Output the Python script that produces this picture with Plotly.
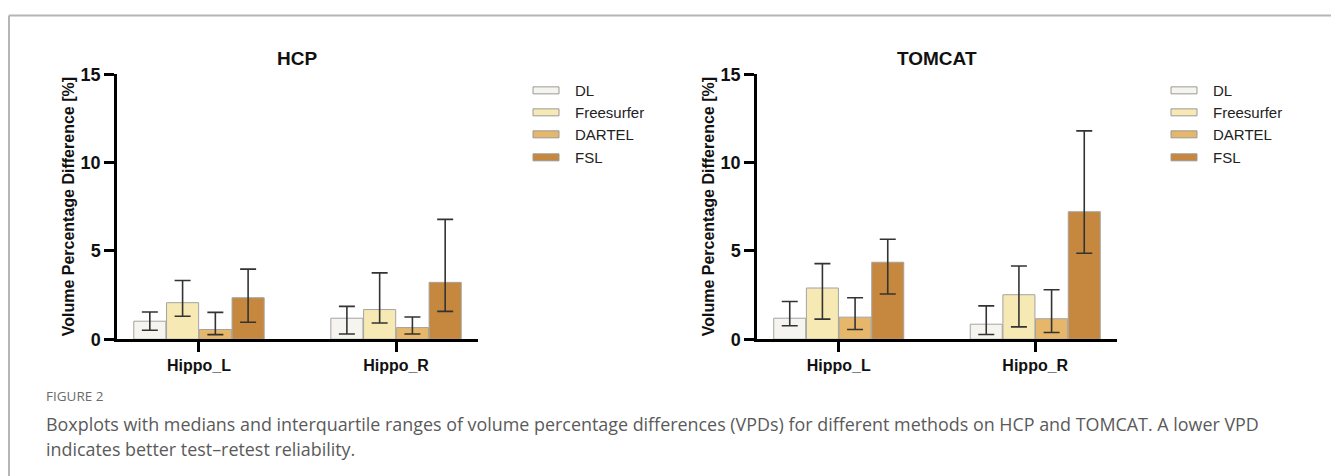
import plotly.graph_objects as go

W, H = 1331, 476

categories = ["Hippo_L", "Hippo_R"]
methods = ["DL", "Freesurfer", "DARTEL", "FSL"]
colors = ["#f6f4ee", "#f7e9b4", "#e6b76a", "#c6883f"]

# HCP medians and interquartile ranges (Q1, Q3)
hcp_median = {"DL": [1.02, 1.19], "Freesurfer": [2.07, 1.68], "DARTEL": [0.55, 0.66], "FSL": [2.35, 3.22]}
hcp_q1 = {"DL": [0.51, 0.30], "Freesurfer": [1.30, 0.92], "DARTEL": [0.26, 0.30], "FSL": [0.96, 1.58]}
hcp_q3 = {"DL": [1.54, 1.86], "Freesurfer": [3.33, 3.76], "DARTEL": [1.52, 1.26], "FSL": [3.97, 6.79]}

# TOMCAT medians and interquartile ranges
tom_median = {"DL": [1.19, 0.85], "Freesurfer": [2.90, 2.52], "DARTEL": [1.25, 1.16], "FSL": [4.36, 7.22]}
tom_q1 = {"DL": [0.76, 0.27], "Freesurfer": [1.14, 0.70], "DARTEL": [0.55, 0.38], "FSL": [2.56, 4.87]}
tom_q3 = {"DL": [2.14, 1.89], "Freesurfer": [4.28, 4.15], "DARTEL": [2.35, 2.80], "FSL": [5.66, 11.80]}

y_ticks = [0, 5, 10, 15]
panel_titles = ["HCP", "TOMCAT"]
y_title = "Volume Percentage Difference [%]"
caption_head = "FIGURE 2"
caption_lines = [
    "Boxplots with medians and interquartile ranges of volume percentage differences (VPDs) for different methods on HCP and TOMCAT. A lower VPD",
    "indicates better test\u2013retest reliability.",
]


def px(x):
    return x / W


def py(t):
    # vertical pixel (from top) -> paper fraction, compensating the observed render mapping
    return 1 - ((t - 8.6) / 0.9585) / H


fig = go.Figure()

datasets = [(hcp_median, hcp_q1, hcp_q3), (tom_median, tom_q1, tom_q3)]
for p, (med, q1, q3) in enumerate(datasets):
    xa = "x" if p == 0 else "x2"
    ya = "y" if p == 0 else "y2"
    for m, c in zip(methods, colors):
        vals = med[m]
        up = [b - a for a, b in zip(vals, q3[m])]
        dn = [a - b for a, b in zip(vals, q1[m])]
        fig.add_trace(go.Bar(
            x=categories, y=vals, name=m, xaxis=xa, yaxis=ya,
            offsetgroup=m, showlegend=False,
            marker=dict(color=c, line=dict(color="#a3a3a3", width=1)),
            error_y=dict(type="data", symmetric=False, array=up, arrayminus=dn,
                         color="#333333", thickness=1.6, width=8),
        ))

axis_font = dict(family="Liberation Sans, Arial, sans-serif", color="#111111")

xdomains = [(px(117), px(478)), (px(757), px(1117))]
ydomain = (py(338), py(73))

for p in range(2):
    xk = "xaxis" if p == 0 else "xaxis2"
    yk = "yaxis" if p == 0 else "yaxis2"
    fig.layout[xk] = dict(
        domain=xdomains[p], range=[-0.416, 1.416], type="category",
        showline=True, linecolor="#000000", linewidth=2.5,
        ticks="outside", ticklen=10, tickwidth=2.5, tickcolor="#000000",
        showgrid=False, zeroline=False,
        tickfont=dict(size=16, weight="bold", **axis_font),
        anchor="y" if p == 0 else "y2",
    )
    fig.layout[yk] = dict(
        domain=ydomain, range=[0, 15], tickvals=y_ticks,
        showline=True, linecolor="#000000", linewidth=2.5,
        ticks="outside", ticklen=10, tickwidth=2.5, tickcolor="#000000",
        showgrid=False, zeroline=False,
        tickfont=dict(size=18, weight="bold", **axis_font),
        anchor="x" if p == 0 else "x2",
    )

fig.update_layout(
    width=W, height=H, autosize=False,
    margin=dict(l=0, r=0, t=0, b=0),
    paper_bgcolor="white", plot_bgcolor="white",
    barmode="group", bargap=0.335, bargroupgap=0.02,
    showlegend=False,
)

annotations = []
title_x = [297, 937]
ytitle_x = [68, 708]
for p in range(2):
    annotations.append(dict(
        text="<b>" + panel_titles[p] + "</b>", x=px(title_x[p]), y=py(57),
        xref="paper", yref="paper", showarrow=False, xanchor="center", yanchor="middle",
        font=dict(size=19, **axis_font),
    ))
    annotations.append(dict(
        text="<b>" + y_title + "</b>", x=px(ytitle_x[p]), y=py(206),
        xref="paper", yref="paper", showarrow=False, xanchor="center", yanchor="middle",
        textangle=-90, font=dict(size=16, **axis_font),
    ))

# legends (drawn as swatches + labels)
shapes = []
legend_sw_x = [(533, 559), (1171, 1197)]
legend_tx = [573, 1211]
legend_rows = [89, 111, 133, 156]
for p in range(2):
    for i, (m, c) in enumerate(zip(methods, colors)):
        yc = legend_rows[i]
        shapes.append(dict(
            type="rect", xref="paper", yref="paper",
            x0=px(legend_sw_x[p][0]), x1=px(legend_sw_x[p][1]),
            y0=py(yc - 3.5), y1=py(yc + 3.5),
            fillcolor=c, line=dict(color="#9a9a9a", width=1),
        ))
        annotations.append(dict(
            text=m, x=px(legend_tx[p]), y=py(yc), xref="paper", yref="paper",
            showarrow=False, xanchor="left", yanchor="middle",
            font=dict(size=15, family="Liberation Sans, Arial, sans-serif", color="#222222"),
        ))

# frame lines
shapes.append(dict(type="line", xref="paper", yref="paper", x0=px(9), x1=1, y0=py(14), y1=py(14),
                   line=dict(color="#b5b5b5", width=2)))
shapes.append(dict(type="line", xref="paper", yref="paper", x0=px(9), x1=px(9), y0=py(14), y1=-0.05,
                   line=dict(color="#b5b5b5", width=2)))

# caption
annotations.append(dict(
    text=caption_head, x=px(44), y=py(395), xref="paper", yref="paper",
    showarrow=False, xanchor="left", yanchor="middle",
    font=dict(size=13.5, family="Open Sans, sans-serif", color="#6b6b6b"),
))
for i, line in enumerate(caption_lines):
    annotations.append(dict(
        text=line, x=px(44), y=py(423 + 24.5 * i), xref="paper", yref="paper",
        showarrow=False, xanchor="left", yanchor="middle",
        font=dict(size=17.9, family="Open Sans, sans-serif", color="#5a5a5a"),
    ))

fig.update_layout(annotations=annotations, shapes=shapes)

fig.write_html("out.html")
